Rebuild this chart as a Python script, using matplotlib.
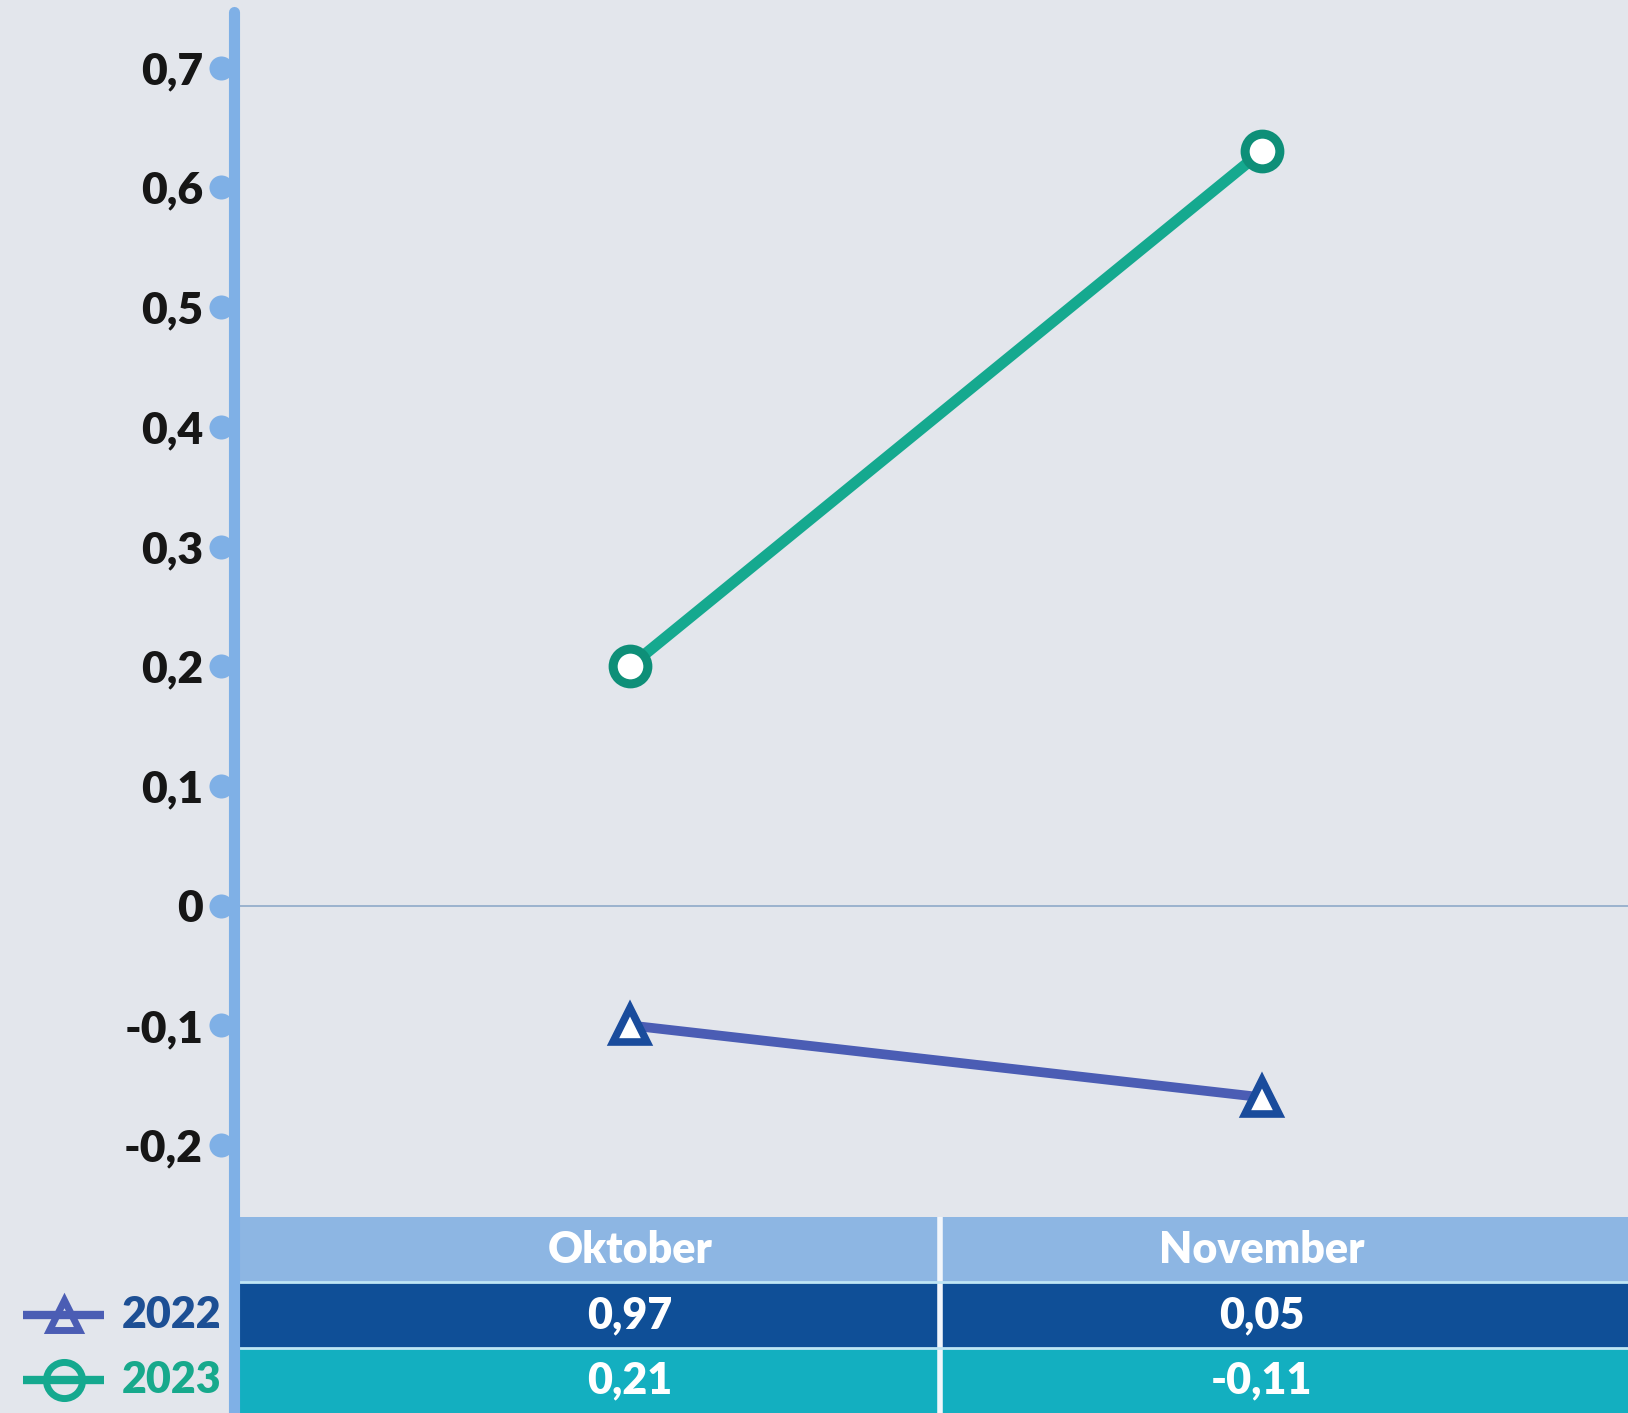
import numpy as np
import matplotlib
matplotlib.use("Agg")
import matplotlib.pyplot as plt
from matplotlib.lines import Line2D
from matplotlib.patches import Rectangle
from matplotlib.ticker import FuncFormatter

# data
months = ["Oktober", "November"]
years = ["2022", "2023"]
vals_2022 = [-0.10, -0.16]
vals_2023 = [0.20, 0.63]
tab_2022 = ["0,97", "0,05"]
tab_2023 = ["0,21", "-0,11"]
yticks = [-0.2, -0.1, 0.0, 0.1, 0.2, 0.3, 0.4, 0.5, 0.6, 0.7]

plt.rcParams["font.family"] = ["Lato", "DejaVu Sans"]
plt.rcParams["font.weight"] = "heavy"
FW = "heavy"

bg = "#e3e6ec"
axis_blue = "#7fb0e6"
head_blue = "#8db6e3"
dark_blue = "#0f4f97"
teal_row = "#13afc0"
c2022 = "#4b5db4"
c2022_edge = "#1a4c9c"
c2023 = "#15a98f"
c2023_edge = "#0e8f78"

W, H = 1628, 1413
def fx(px):
    return px / W
def fy(py):
    return 1 - py / H

fig = plt.figure(figsize=(16.28, 14.13), dpi=100)
fig.patch.set_facecolor(bg)

x0 = 233.6
ax = fig.add_axes([fx(x0), fy(1217), 1 - fx(x0), fy(12.5) - fy(1217)])
ax.set_facecolor("none")
x = np.arange(len(months))
ax.set_xlim(-0.628, 1.580)
ax.set_ylim(-0.26, 0.746)

ax.axhline(0, color="#8ea9c9", lw=1.2, zorder=1)
ax.plot(x, vals_2023, color=c2023, lw=8, marker="o", ms=25, mfc="white",
        mec=c2023_edge, mew=6.5, zorder=3, clip_on=False)
ax.plot(x, vals_2022, color=c2022, lw=7, marker="^", ms=24, mfc="white",
        mec=c2022_edge, mew=5.5, zorder=3, clip_on=False)

for s in ax.spines.values():
    s.set_visible(False)
ax.set_xticks([])
ax.set_yticks(yticks)
ax.yaxis.set_major_formatter(FuncFormatter(
    lambda v, p: "0" if abs(v) < 1e-9 else ("%.1f" % v).replace(".", ",")))
ax.tick_params(axis="y", length=0, pad=22, labelsize=32, labelcolor="#161616")
for t in ax.get_yticklabels():
    t.set_fontweight(FW)

# tick dots on the axis
ax.scatter([-0.009] * len(yticks), yticks, s=300, color=axis_blue,
           transform=ax.get_yaxis_transform(), clip_on=False, zorder=4,
           linewidths=0)

# table under the chart
ax_tab = fig.add_axes([fx(x0), 0, 1 - fx(x0), fy(1217)], sharex=ax)
ax_tab.set_ylim(0, 3)
ax_tab.axis("off")
xl, xr = ax.get_xlim()
row_cols = [head_blue, dark_blue, teal_row]
row_texts = [months, tab_2022, tab_2023]
for r, (col, texts) in enumerate(zip(row_cols, row_texts)):
    yb = 2 - r
    ax_tab.add_patch(Rectangle((xl, yb), xr - xl, 1, color=col, lw=0))
    for i, t in enumerate(texts):
        ax_tab.text(x[i], yb + 0.5, t, ha="center", va="center",
                    color="white", fontsize=31, fontweight=FW)
ax_tab.axvline(0.49, color="#f2f6fb", lw=4)
ax_tab.axhline(2, color="#bfe6f5", lw=2)
ax_tab.axhline(1, color="#bfe6f5", lw=2)

# legend at the bottom left
ax_leg = fig.add_axes([0, 0, fx(x0) - 0.004, fy(1217)])
ax_leg.set_xlim(0, x0 - 6)
ax_leg.set_ylim(0, 3)
ax_leg.axis("off")
leg = [(years[0], c2022, "^", 22, 1.5, "#1d4f94"),
       (years[1], c2023, "o", 26, 0.5, "#17a98c")]
for lab, lc, mk, ms, yc, tc in leg:
    ax_leg.plot([23, 104], [yc, yc], color=lc, lw=6, solid_capstyle="butt")
    ax_leg.plot([64], [yc], marker=mk, ms=ms, mfc="none", mec=lc, mew=5)
    ax_leg.text(122, yc, lab, ha="left", va="center", color=tc,
                fontsize=31, fontweight=FW)

# vertical axis line
fig.add_artist(Line2D([fx(x0), fx(x0)], [fy(12), fy(1413)],
                      transform=fig.transFigure, color=axis_blue, lw=8,
                      solid_capstyle="round", zorder=5))

fig.savefig("out.png", dpi=100, facecolor=fig.get_facecolor())
